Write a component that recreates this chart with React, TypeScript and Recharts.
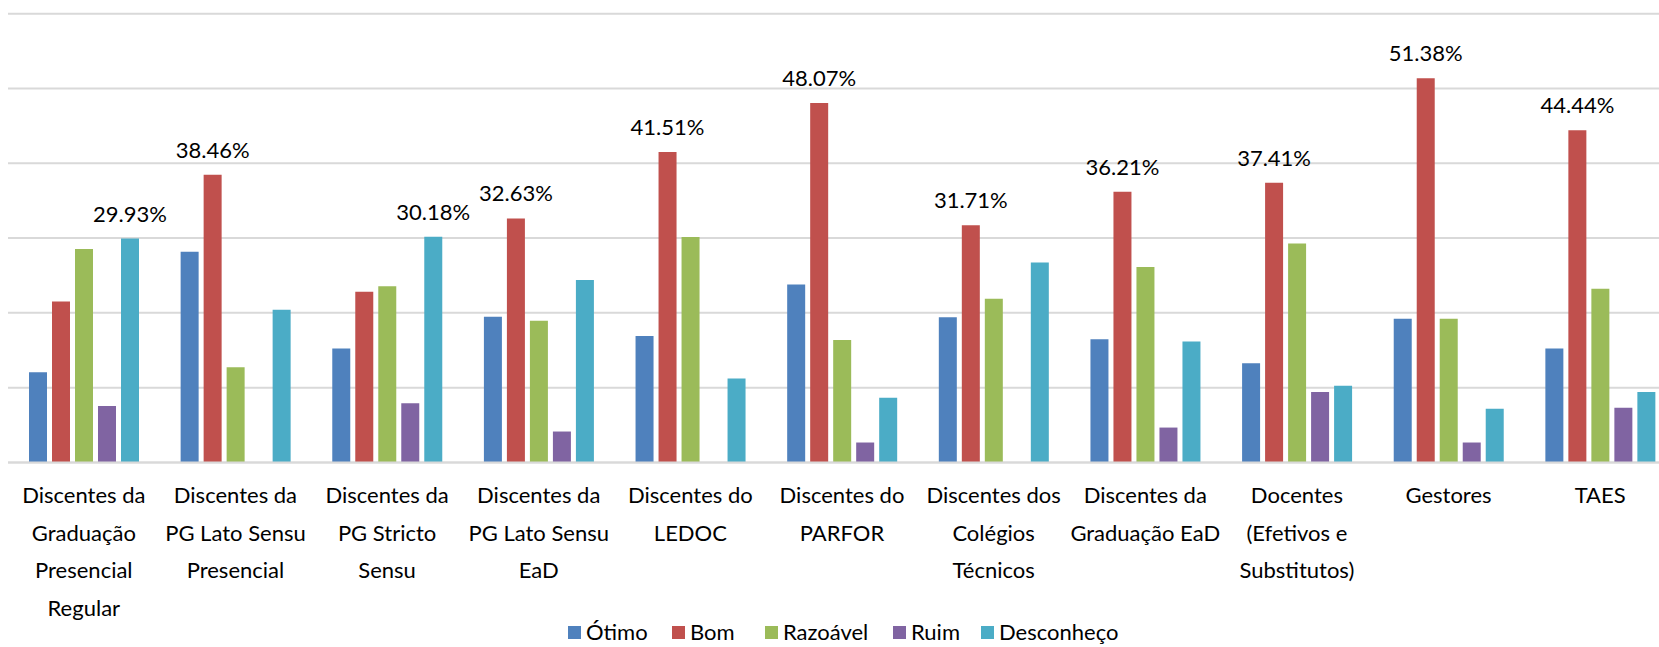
import { BarChart, Bar, XAxis, YAxis, CartesianGrid, LabelList, Legend } from "recharts";

// categories (line breaks as in the original axis)
const categories = [
  "Discentes da\nGraduação\nPresencial\nRegular",
  "Discentes da\nPG Lato Sensu\nPresencial",
  "Discentes da\nPG Stricto\nSensu",
  "Discentes da\nPG Lato Sensu\nEaD",
  "Discentes do\nLEDOC",
  "Discentes do\nPARFOR",
  "Discentes dos\nColégios\nTécnicos",
  "Discentes da\nGraduação EaD",
  "Docentes\n(Efetivos e\nSubstitutos)",
  "Gestores",
  "TAES",
];

// percentages
const otimo = [12.07, 28.18, 15.22, 19.49, 16.91, 23.79, 19.4, 16.47, 13.27, 19.22, 15.22];
const bom = [21.53, 38.46, 22.81, 32.63, 41.51, 48.07, 31.71, 36.21, 37.41, 51.38, 44.44];
const razoavel = [28.54, 12.74, 23.57, 18.95, 30.14, 16.38, 21.88, 26.14, 29.29, 19.22, 23.21];
const ruim = [7.55, 0, 7.9, 4.13, 0, 2.66, 0, 4.66, 9.41, 2.66, 7.32];
const desconheco = [29.93, 20.42, 30.18, 24.41, 11.23, 8.66, 26.72, 16.16, 10.25, 7.19, 9.41];

const yTicks = [0, 10, 20, 30, 40, 50, 60];

const series = [
  { key: "otimo", name: "Ótimo", color: "#4f81bd", values: otimo },
  { key: "bom", name: "Bom", color: "#c0504d", values: bom },
  { key: "razoavel", name: "Razoável", color: "#9bbb59", values: razoavel },
  { key: "ruim", name: "Ruim", color: "#8064a2", values: ruim },
  { key: "desconheco", name: "Desconheço", color: "#4bacc6", values: desconheco },
];

// legend entry left edges (px, relative to legend box) - Excel spaces them unevenly
const legendLeft = [560, 664, 757, 885, 973];

const FONT = "Lato, 'Open Sans', sans-serif";
const FS = 22;

// one row per category; only the biggest value of each group gets a label
const data = categories.map((name, i) => {
  const row: any = { name };
  const max = Math.max(...series.map(s => s.values[i]));
  series.forEach(s => {
    row[s.key] = s.values[i];
    row[s.key + "Label"] = s.values[i] === max ? s.values[i].toFixed(2) + "%" : "";
  });
  return row;
});

const MultiLineTick = ({ x, y, payload }: any) => {
  const lines = String(payload.value).split("\n");
  return (
    <text x={x} y={y} textAnchor="middle" fontFamily={FONT} fontSize={FS} fill="#000">
      {lines.map((l, i) => (
        <tspan key={i} x={x} dy={i === 0 ? 41 : 37.5}>{l}</tspan>
      ))}
    </text>
  );
};

const TopLabel = ({ x, y, width, value }: any) => {
  if (!value) return null;
  return (
    <text x={x + width / 2} y={y - 17} textAnchor="middle" fontFamily={FONT} fontSize={FS} fill="#000">
      {value}
    </text>
  );
};

const LegendContent = () => (
  <div style={{ position: "relative", top: -4, height: 22, fontFamily: FONT, fontSize: FS, lineHeight: "22px", color: "#000" }}>
    {series.map((s, i) => (
      <div key={s.key} style={{ position: "absolute", left: legendLeft[i], top: 0, height: 22, display: "flex", alignItems: "center", whiteSpace: "nowrap" }}>
        <span style={{ display: "inline-block", width: 13, height: 13, background: s.color, marginRight: 5 }} />
        <span>{s.name}</span>
      </div>
    ))}
  </div>
);

export default function App() {
  return (
    <div style={{ position: "absolute", left: 0, top: 0, width: 1659, height: 647, overflow: "hidden", background: "#fff" }}>
      <BarChart
        width={1677}
        height={647}
        data={data}
        margin={{ top: 13.8, right: 1, left: 8, bottom: 0 }}
        barSize={18}
        barGap={5}
      >
        <CartesianGrid vertical={false} stroke="#d9d9d9" strokeWidth={2} />
        <YAxis hide domain={[0, 60]} ticks={yTicks} />
        <XAxis
          dataKey="name"
          height={162.6}
          interval={0}
          tickLine={false}
          tickSize={0}
          tickMargin={0}
          axisLine={{ stroke: "#d9d9d9", strokeWidth: 2 }}
          tick={<MultiLineTick />}
        />
        <Legend verticalAlign="bottom" height={22} content={<LegendContent />} />
        {series.map(s => (
          <Bar key={s.key} dataKey={s.key} name={s.name} fill={s.color} isAnimationActive={false}>
            <LabelList dataKey={s.key + "Label"} content={<TopLabel />} />
          </Bar>
        ))}
      </BarChart>
    </div>
  );
}
